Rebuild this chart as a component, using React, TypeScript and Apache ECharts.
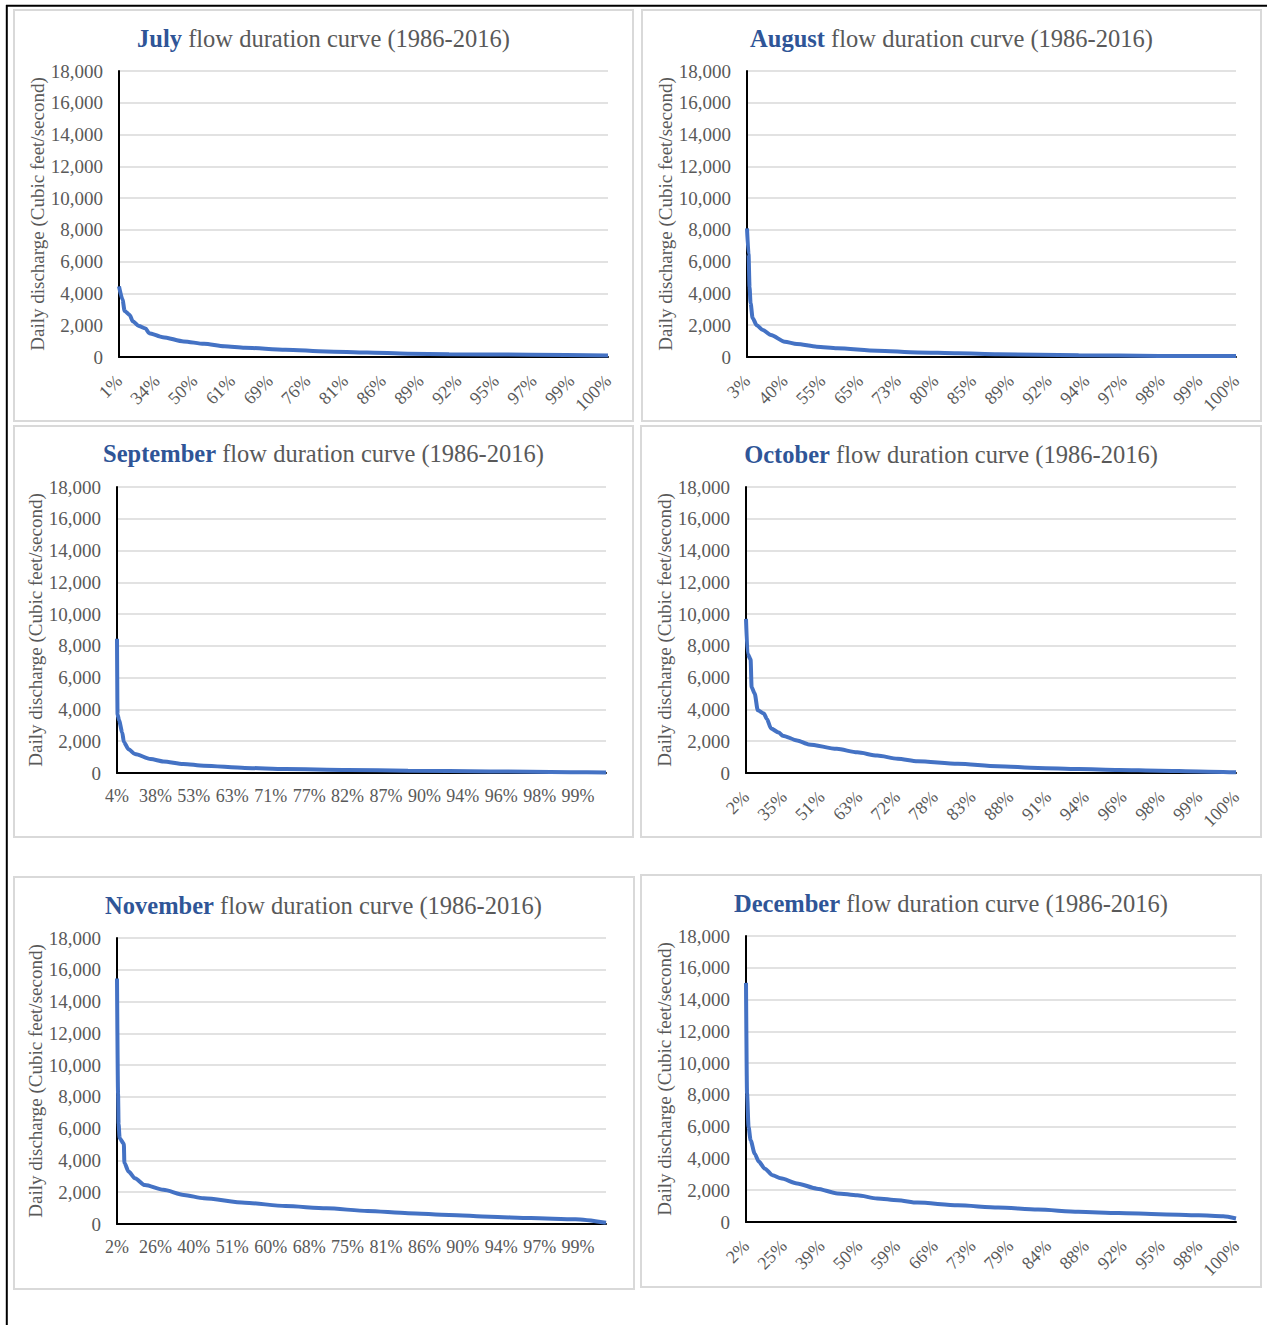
import React, { useEffect, useRef } from 'react';
import * as echarts from 'echarts';

// ---------- Data (ranked daily discharge, cfs) ----------
const julyLabels = ['1%', '34%', '50%', '61%', '69%', '76%', '81%', '86%', '89%', '92%', '95%', '97%', '99%', '100%'];
const julyRank = [0, 7, 11, 21, 27, 39, 52, 59, 86, 127, 167, 207, 247, 327, 407, 487, 567, 648, 808, 960];
const julyFlow = [4450, 3600, 2900, 2650, 2250, 1950, 1800, 1500, 1250, 980, 830, 680, 580, 460, 350, 280, 210, 180, 140, 90];

const augustLabels = ['3%', '40%', '55%', '65%', '73%', '80%', '85%', '89%', '92%', '94%', '97%', '98%', '99%', '100%'];
const augustRank = [0, 3, 5, 7, 11, 19, 31, 47, 74, 98, 137, 177, 256, 335, 414, 493, 651, 809, 960];
const augustFlow = [8100, 6500, 4400, 3400, 2450, 2000, 1700, 1380, 960, 820, 650, 550, 400, 290, 230, 170, 110, 70, 60];

const septemberLabels = ['4%', '38%', '53%', '63%', '71%', '77%', '82%', '87%', '90%', '94%', '96%', '98%', '99%'];
const septemberRank = [0, 1, 4, 10, 13, 22, 34, 64, 88, 126, 165, 243, 320, 437, 553, 709, 862, 929];
const septemberFlow = [8450, 3700, 3300, 2550, 1950, 1500, 1200, 880, 730, 570, 460, 320, 250, 190, 145, 100, 50, 30];

const octoberLabels = ['2%', '35%', '51%', '63%', '72%', '78%', '83%', '88%', '91%', '94%', '96%', '98%', '99%', '100%'];
const octoberRank = [0, 3, 9, 11, 17, 23, 35, 41, 49, 64, 72, 100, 123, 178, 218, 257, 297, 336, 415, 493, 572, 651, 730, 809, 887, 960];
const octoberFlow = [9700, 7500, 7150, 5400, 5000, 3950, 3750, 3400, 2800, 2550, 2350, 2050, 1800, 1520, 1300, 1100, 900, 740, 580, 430, 320, 250, 190, 145, 100, 40];

const novemberLabels = ['2%', '26%', '40%', '51%', '60%', '68%', '75%', '81%', '86%', '90%', '94%', '97%', '99%'];
const novemberRank = [0, 2, 3, 5, 13, 14, 22, 34, 53, 88, 127, 165, 243, 320, 398, 476, 553, 631, 709, 786, 871, 929];
const novemberFlow = [15450, 8200, 6300, 5400, 5050, 3850, 3300, 2880, 2450, 2150, 1830, 1620, 1340, 1130, 990, 820, 680, 570, 460, 370, 300, 80];

const decemberLabels = ['2%', '25%', '39%', '50%', '59%', '66%', '73%', '79%', '84%', '88%', '92%', '95%', '98%', '100%'];
const decemberRank = [0, 2, 5, 9, 17, 25, 37, 52, 68, 100, 139, 179, 218, 257, 297, 336, 415, 494, 572, 651, 730, 809, 887, 935, 960];
const decemberFlow = [15050, 8100, 6000, 5150, 4300, 3800, 3350, 2950, 2750, 2430, 2100, 1800, 1680, 1480, 1370, 1220, 1050, 910, 780, 640, 570, 490, 420, 360, 220];

const yTicksMax = 18000;
const yTickStep = 2000;

const months = [
  { name: 'July', labels: julyLabels, rank: julyRank, flow: julyFlow, days: 961, step: 74, rotate: 45 },
  { name: 'August', labels: augustLabels, rank: augustRank, flow: augustFlow, days: 961, step: 74, rotate: 45 },
  { name: 'September', labels: septemberLabels, rank: septemberRank, flow: septemberFlow, days: 930, step: 73, rotate: 0 },
  { name: 'October', labels: octoberLabels, rank: octoberRank, flow: octoberFlow, days: 961, step: 74, rotate: 45 },
  { name: 'November', labels: novemberLabels, rank: novemberRank, flow: novemberFlow, days: 930, step: 73, rotate: 0 },
  { name: 'December', labels: decemberLabels, rank: decemberRank, flow: decemberFlow, days: 961, step: 74, rotate: 45 },
];

// ---------- Layout ----------
const layout = [
  { box: [14, 10, 619, 411], grid: [119, 71, 489, 286], title: [323.5, 38] },
  { box: [642, 10, 619, 411], grid: [747, 71, 489, 286], title: [951.5, 38] },
  { box: [14, 426, 619, 411], grid: [117, 487, 489, 286], title: [323.5, 453] },
  { box: [641, 426, 620, 411], grid: [746, 487, 490, 286], title: [951, 454] },
  { box: [14, 877, 620, 412], grid: [117, 938, 489, 286], title: [323.5, 905] },
  { box: [641, 875, 620, 412], grid: [746, 936, 490, 286], title: [951, 903] },
];

const FONT = "'Liberation Serif', 'Times New Roman', serif";
const GRAY = '#595959';

export default function App() {
  const ref = useRef<HTMLDivElement>(null);

  useEffect(() => {
    if (!ref.current) return;
    const chart = echarts.init(ref.current, undefined, { renderer: 'svg' });

    const grids: any[] = [];
    const xAxes: any[] = [];
    const yAxes: any[] = [];
    const series: any[] = [];
    const graphics: any[] = [];

    // outer frame lines
    graphics.push({
      type: 'line',
      shape: { x1: 6, y1: 5.8, x2: 1267, y2: 5.8 },
      style: { stroke: '#000', lineWidth: 2 },
      z: 10,
    });
    graphics.push({
      type: 'line',
      shape: { x1: 6.8, y1: 5, x2: 6.8, y2: 1325 },
      style: { stroke: '#000', lineWidth: 2 },
      z: 10,
    });

    months.forEach((m, i) => {
      const L = layout[i];
      graphics.push({
        type: 'rect',
        shape: { x: L.box[0], y: L.box[1], width: L.box[2], height: L.box[3] },
        style: { fill: 'none', stroke: '#d9d9d9', lineWidth: 2 },
        z: 1,
      });
      graphics.push({
        type: 'text',
        x: L.title[0],
        y: L.title[1],
        z: 10,
        style: {
          text: `{m|${m.name}} {r|flow duration curve (1986-2016)}`,
          align: 'center',
          verticalAlign: 'middle',
          fontFamily: FONT,
          fontSize: 24.5,
          fill: GRAY,
          rich: {
            m: { fontFamily: FONT, fontSize: 24.5, fontWeight: 'bold', fill: '#2F5597', color: '#2F5597' },
            r: { fontFamily: FONT, fontSize: 24.5, fill: GRAY, color: GRAY },
          },
        },
      });

      grids.push({ left: L.grid[0], top: L.grid[1], width: L.grid[2], height: L.grid[3] });

      const maxRank = m.days - 1;
      xAxes.push({
        type: 'value',
        gridIndex: i,
        min: 0,
        max: maxRank,
        interval: m.step,
        axisLine: { show: true, onZero: false, lineStyle: { color: '#000', width: 2 } },
        axisTick: { show: false },
        splitLine: { show: false },
        axisLabel: {
          showMinLabel: true,
          showMaxLabel: true,
          rotate: m.rotate,
          margin: m.rotate ? 21 : 14,
          fontFamily: FONT,
          fontSize: 18,
          color: GRAY,
          formatter: (v: number) => {
            const k = Math.round(v / m.step);
            if (Math.abs(v - k * m.step) < 1e-6) return m.labels[k] ?? '';
            if (v === maxRank && k === m.labels.length - 1) return m.labels[k];
            return '';
          },
        },
      });

      yAxes.push({
        type: 'value',
        gridIndex: i,
        min: 0,
        max: yTicksMax,
        interval: yTickStep,
        axisLine: { show: true, lineStyle: { color: '#000', width: 2 } },
        axisTick: { show: false },
        splitLine: { show: true, lineStyle: { color: '#d9d9d9', width: 1.5 } },
        axisLabel: {
          margin: 16,
          fontFamily: FONT,
          fontSize: 19,
          color: GRAY,
          formatter: (v: number) => v.toLocaleString('en-US'),
        },
        name: 'Daily discharge (Cubic feet/second)',
        nameLocation: 'middle',
        nameGap: 72,
        nameTextStyle: { fontFamily: FONT, fontSize: 19, color: GRAY },
      });

      series.push({
        type: 'line',
        xAxisIndex: i,
        yAxisIndex: i,
        data: m.rank.map((r, j) => [r, m.flow[j]]),
        showSymbol: false,
        symbol: 'none',
        smooth: 0.25,
        smoothMonotone: 'x',
        lineStyle: { color: '#4472C4', width: 4 },
        z: 5,
      });
    });

    chart.setOption({
      animation: false,
      backgroundColor: '#ffffff',
      grid: grids,
      xAxis: xAxes,
      yAxis: yAxes,
      series,
      graphic: graphics,
    });

    return () => chart.dispose();
  }, []);

  return (
    <div
      ref={ref}
      style={{ position: 'absolute', left: 0, top: 0, width: 1267, height: 1325 }}
    />
  );
}
